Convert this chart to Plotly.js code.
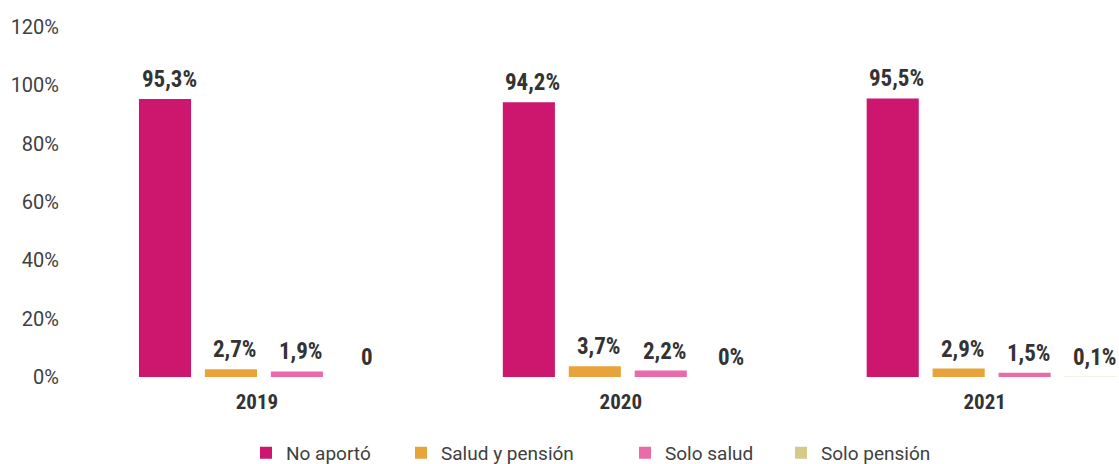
<!DOCTYPE html>
<html>
<head>
<meta charset="utf-8">
<script src="https://cdn.plot.ly/plotly-3.0.1.min.js"></script>
<style>
  html, body { margin: 0; padding: 0; background: #ffffff; }
  #chart { width: 1119px; height: 464px; }
</style>
</head>
<body>
<div id="chart"></div>
<script>
// ---- Data ----
const years = ['2019', '2020', '2021'];
const seriesNames = ['No aportó', 'Salud y pensión', 'Solo salud', 'Solo pensión'];
const noAporto = [95.3, 94.2, 95.5];
const saludPension = [2.7, 3.7, 2.9];
const soloSalud = [1.9, 2.2, 1.5];
const soloPension = [0, 0, 0.1];
const noAportoLabels = ['95,3%', '94,2%', '95,5%'];
const saludPensionLabels = ['2,7%', '3,7%', '2,9%'];
const soloSaludLabels = ['1,9%', '2,2%', '1,5%'];
const soloPensionLabels = ['0', '0%', '0,1%'];
const yTickVals = [0, 20, 40, 60, 80, 100, 120];
const yTickText = ['0%', '20%', '40%', '60%', '80%', '100%', '120%'];

// ---- Styles ----
const colors = ['#CD166E', '#E8A33A', '#E96BA8', '#D6C98A'];
const seriesValues = [noAporto, saludPension, soloSalud, soloPension];
const seriesLabels = [noAportoLabels, saludPensionLabels, soloSaludLabels, soloPensionLabels];
const narrowBold = '"Liberation Sans Narrow", "Roboto Condensed", "DejaVu Sans Condensed", sans-serif';
const bargap = 0.275;
const bargroupgap = 0.21;
const legendIds = ['legend', 'legend2', 'legend3', 'legend4'];
const legendLeftPx = [246, 401, 625, 781];

const traces = seriesNames.map((name, j) => ({
  type: 'bar',
  name: name,
  x: years,
  y: seriesValues[j],
  legend: legendIds[j],
  marker: { color: colors[j], line: { width: 0 } },
  hoverinfo: 'skip'
}));

// data labels above each bar, positioned from the category index and group offsets
const nSeries = seriesNames.length;
const slot = (1 - bargap) / nSeries;
const annotations = [];
seriesValues.forEach((vals, j) => {
  vals.forEach((v, i) => {
    annotations.push({
      x: i + (j - (nSeries - 1) / 2) * slot,
      y: v,
      xref: 'x', yref: 'y',
      text: '<b>' + seriesLabels[j][i] + '</b>',
      showarrow: false,
      xanchor: 'center',
      yanchor: 'bottom',
      xshift: 4,
      yshift: 4,
      font: { family: narrowBold, size: 23, color: '#333333' }
    });
  });
});

const layout = {
  width: 1119,
  height: 464,
  margin: { l: 82, r: 0, t: 27, b: 87, pad: 0, autoexpand: false },
  paper_bgcolor: '#ffffff',
  plot_bgcolor: '#ffffff',
  barmode: 'group',
  bargap: bargap,
  bargroupgap: bargroupgap,
  showlegend: true,
  xaxis: {
    type: 'category',
    range: [-0.5, 2.35],
    showgrid: false,
    zeroline: false,
    showline: false,
    ticks: '',
    ticklabelshift: -7,
    ticklabelstandoff: 10,
    tickfont: { family: narrowBold, size: 21, color: '#333333', weight: 'bold' },
    fixedrange: true
  },
  yaxis: {
    range: [0, 120],
    tickvals: yTickVals,
    ticktext: yTickText,
    showgrid: false,
    zeroline: false,
    showline: false,
    ticks: '',
    ticklabelstandoff: 22,
    tickfont: { family: 'Roboto, sans-serif', size: 20, color: '#404040' },
    fixedrange: true
  },
  annotations: annotations
};

legendIds.forEach((id, j) => {
  layout[id] = {
    orientation: 'h',
    xref: 'container', x: legendLeftPx[j] / 1119, xanchor: 'left',
    yref: 'container', y: 0.024, yanchor: 'middle',
    font: { family: 'Roboto, sans-serif', size: 19, color: '#404040' },
    bgcolor: 'rgba(0,0,0,0)',
    itemclick: false
  };
});

Plotly.newPlot('chart', traces, layout, { displayModeBar: false, staticPlot: true });
</script>
</body>
</html>
